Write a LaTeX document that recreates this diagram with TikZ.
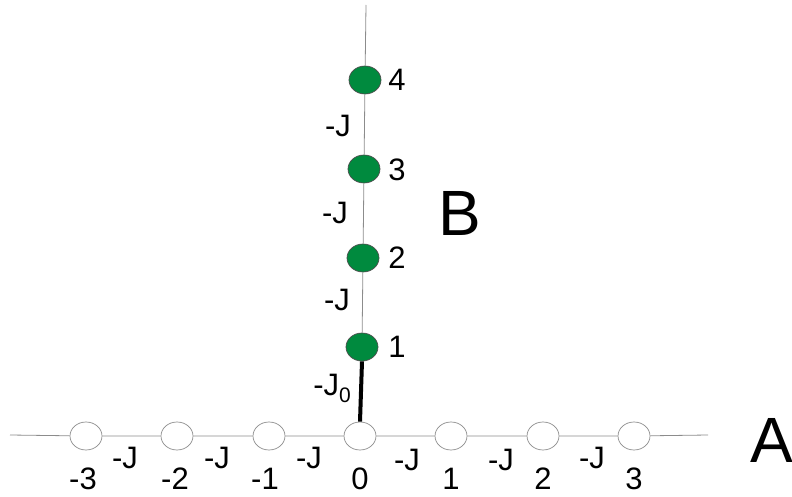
\documentclass[tikz,border=0pt]{standalone}
\usepackage{fontspec}
\setmainfont{Liberation Sans}
\usetikzlibrary{shapes.geometric}
\definecolor{sitegreen}{RGB}{0,138,62}
\definecolor{linegray}{RGB}{140,140,140}
\begin{document}
\begin{tikzpicture}[x=1pt,y=-1pt,
  site/.style={ellipse,draw=linegray,line width=0.7pt,minimum width=32pt,minimum height=28pt,inner sep=0pt},
  opensite/.style={site,fill=white},
  greensite/.style={site,draw=black!70,fill=sitegreen},
  bond/.style={draw=linegray,line width=0.8pt},
  lbl/.style={font=\fontsize{31}{31}\selectfont,inner sep=0pt,anchor=center},
  big/.style={font=\fontsize{64}{64}\selectfont,inner sep=0pt,anchor=center}]
\useasboundingbox (0,0) rectangle (792,497);
\coordinate (hl) at (10,435);
\coordinate (hr) at (708,435);
\coordinate (vt) at (366,5);
\node[opensite] (m3) at (86,436) {};
\node[opensite] (m2) at (177,436) {};
\node[opensite] (m1) at (269,436) {};
\node[opensite] (o0) at (360,436) {};
\node[opensite] (p1) at (451,436) {};
\node[opensite] (p2) at (543,436) {};
\node[opensite] (p3) at (634,436) {};
\node[greensite] (g1) at (362,347) {};
\node[greensite] (g2) at (363,258) {};
\node[greensite] (g3) at (364,169) {};
\node[greensite] (g4) at (365,80) {};
\path[bond] (hl) -- (m3) (m3) -- (m2) (m2) -- (m1) (m1) -- (o0) (o0) -- (p1) (p1) -- (p2) (p2) -- (p3) (p3) -- (hr);
\path[bond] (vt) -- (g4) (g4) -- (g3) (g3) -- (g2) (g2) -- (g1);
\draw[line width=4pt,black] (g1.south) -- (o0.north);
% labels
\node[lbl] (tm3) at (83,479) {-3};
\node[lbl] (tm2) at (175,479) {-2};
\node[lbl] (tm1) at (265,479) {-1};
\node[lbl] (t0) at (360,479) {0};
\node[lbl] (tp1) at (451,479) {1};
\node[lbl] (tp2) at (543,479) {2};
\node[lbl] (tp3) at (634,479) {3};
\node[lbl] (j1) at (125,458) {-J};
\node[lbl] (j2) at (217,458) {-J};
\node[lbl] (j3) at (309,458) {-J};
\node[lbl] (j4) at (407,460) {-J};
\node[lbl] (j5) at (501,460) {-J};
\node[lbl] (j6) at (592,458) {-J};
\node[lbl] (tg1) at (397,347) {1};
\node[lbl] (tg2) at (397,258) {2};
\node[lbl] (tg3) at (397,170) {3};
\node[lbl] (tg4) at (397,80) {4};
\node[lbl] (jv3) at (338,126) {-J};
\node[lbl] (jv2) at (335,213) {-J};
\node[lbl] (jv1) at (337,300) {-J};
\node[lbl,anchor=base] (j0) at (332,395) {-J\raisebox{-7pt}{\fontsize{21}{21}\selectfont 0}};
\node[big] (A) at (772,440) {A};
\node[big] (B) at (460,213) {B};
\end{tikzpicture}
\end{document}
